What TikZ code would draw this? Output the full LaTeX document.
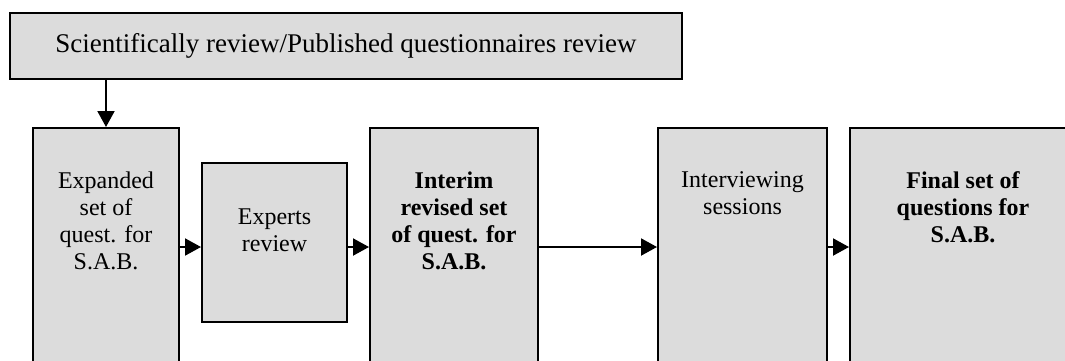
\documentclass[tikz,border=0pt]{standalone}
\usepackage{fontspec}
\setmainfont{Liberation Serif}
\usetikzlibrary{arrows.meta}
\definecolor{boxgray}{RGB}{220,220,220}
\tikzset{>={Triangle[length=8pt,width=8.5pt]}}
\tikzset{
  box/.style={draw,line width=1pt,fill=boxgray,inner sep=0pt},
  tall/.style={box,anchor=north,minimum height=140pt},
  txt/.style={anchor=north,align=center,inner sep=0pt,yshift=-22pt,font=\fontsize{12}{13.5}\selectfont},
  txtb/.style={txt,font=\fontsize{12}{13.5}\selectfont\bfseries},
  arr/.style={->,line width=1pt},
}

\begin{document}
\begin{tikzpicture}[x=0.5pt,y=-0.5pt,font=\fontsize{12}{13.5}\selectfont]
  \useasboundingbox (0,0) rectangle (1065,360);
  \clip (0,0) rectangle (1065,360);
  % review box
  \node[box,minimum width=336pt,minimum height=33pt,font=\fontsize{13.5}{15}\selectfont] (sci) at (346,46) {Scientifically review/Published questionnaires review};
  % steps
  \node[tall,minimum width=73pt,label={[txt]north:Expanded\\set of\\quest. for\\S.A.B.}] (exp) at (106,127) {};
  \node[box,minimum width=72.5pt,minimum height=79.5pt,label={[txt,yshift=-1pt]north:Experts\\review}] (ex) at (274.5,242.5) {};
  \node[tall,minimum width=84pt,label={[txtb]north:Interim\\revised set\\of quest. for\\S.A.B.}] (int) at (454,127) {};
  \node[tall,minimum width=84.5pt,label={[txt]north:Interviewing\\sessions}] (iv) at (742.5,127) {};
  \node[tall,minimum width=113pt,label={[txtb]north:Final set of\\questions for\\S.A.B.}] (fin) at (963,127) {};
  % arrows
  \coordinate (y) at (0,247);
  \draw[arr] (sci.south -| exp.north) -- (exp.north);
  \foreach \s/\t in {exp/ex,ex/int,int/iv,iv/fin}
    \draw[arr] (\s.east |- y) -- (\t.west |- y);
\end{tikzpicture}
\end{document}
